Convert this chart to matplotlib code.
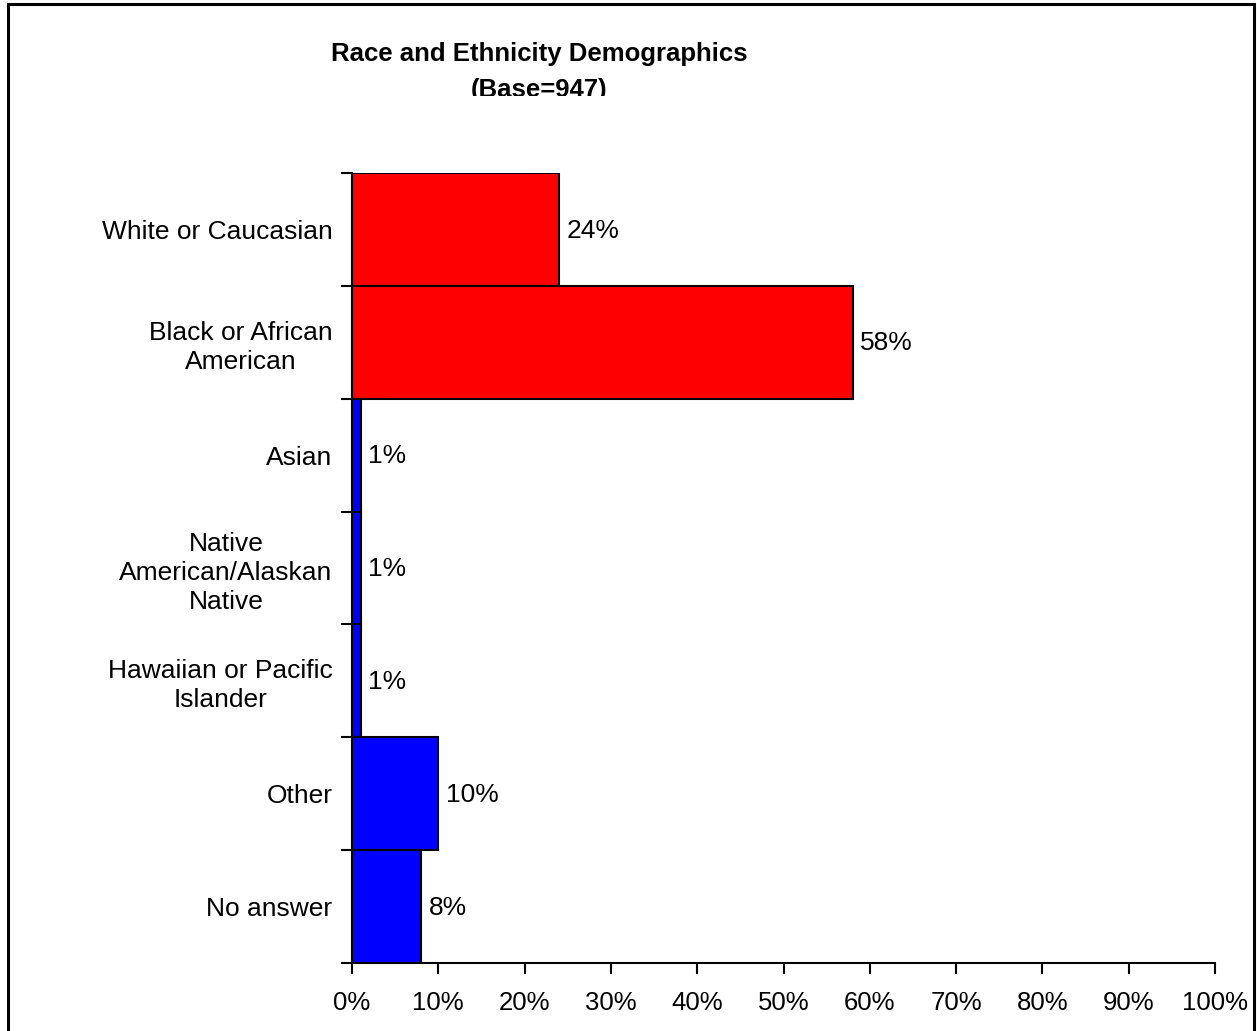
import matplotlib.pyplot as plt
from matplotlib.patches import Rectangle
from matplotlib.transforms import Bbox, TransformedBbox
from matplotlib.ticker import FixedLocator, PercentFormatter

plt.rcParams['font.family'] = ['Liberation Sans', 'DejaVu Sans']

categories = ['White or Caucasian', 'Black or African\nAmerican', 'Asian',
              'Native\nAmerican/Alaskan\nNative', 'Hawaiian or Pacific\nIslander',
              'Other', 'No answer']
values = [24, 58, 1, 1, 1, 10, 8]
colors = ['#ff0000', '#ff0000', '#0000ff', '#0000ff', '#0000ff', '#0000ff', '#0000ff']

W, H = 1257, 1031
fig = plt.figure(figsize=(W / 100, H / 100), dpi=100)
ax = fig.add_axes([352 / W, 1 - 963 / H, (1215 - 352) / W, (963 - 173) / H])

pos = list(range(len(categories)))
ax.barh(pos, values, height=1.0, color=colors, edgecolor='black', linewidth=1.5)
for p, v in zip(pos, values):
    ax.text(v + 0.9, p + 0.01, f'{v}%', va='center', ha='left', fontsize=19)

ax.set_xlim(0, 100)
ax.set_ylim(len(categories) - 0.5, -0.5)
ax.set_xticks(range(0, 101, 10))
ax.xaxis.set_major_formatter(PercentFormatter(decimals=0))
ax.set_yticks(pos)
ax.set_yticklabels(categories, fontsize=19, multialignment='center',
                   linespacing=1.25)
ax.yaxis.set_minor_locator(FixedLocator([p - 0.5 for p in pos] + [len(pos) - 0.5]))
ax.tick_params(axis='y', which='major', length=0, pad=14)
ax.tick_params(axis='y', which='minor', length=8, width=1.5, direction='out')
ax.tick_params(axis='x', length=8, width=1.5, direction='out', pad=12, labelsize=18.5)

for s in ['top', 'right']:
    ax.spines[s].set_visible(False)
for s in ['left', 'bottom']:
    ax.spines[s].set_linewidth(1.5)

# title, second line cut off as in the original
tx = 539 / W
fig.text(tx, 1 - 61 / H, 'Race and Ethnicity Demographics', ha='center',
         va='baseline', fontsize=18.5, fontweight='bold')
t2 = fig.text(tx, 1 - 97 / H, '(Base=947)', ha='center', va='baseline',
              fontsize=18.5, fontweight='bold')
t2.set_clip_box(TransformedBbox(Bbox([[0, 1 - 96 / H], [1, 1]]), fig.transFigure))
t2.set_clip_on(True)

# outer frame
fig.patches.append(Rectangle((8 / W, -0.05), (1254 - 8) / W, 1.05 - 4 / H,
                             transform=fig.transFigure, fill=False,
                             edgecolor='black', linewidth=2.2))

fig.savefig('out.png', dpi=100)
